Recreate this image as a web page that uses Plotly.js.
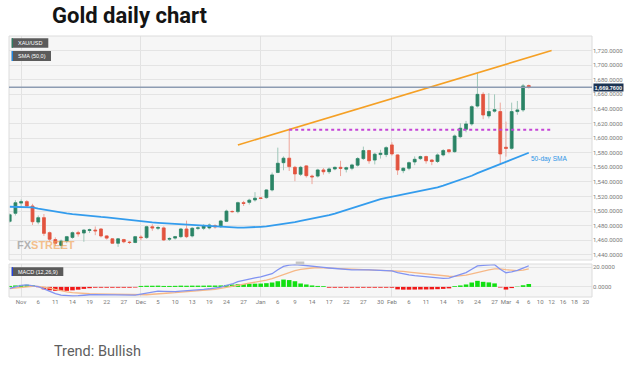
<!DOCTYPE html>
<html><head><meta charset="utf-8">
<script src="https://cdn.plot.ly/plotly-3.0.1.min.js"></script>
<style>html,body{margin:0;padding:0;background:#fff;}#chart{width:628px;height:372px;}</style>
</head><body><div id="chart"></div>
<script>
// ---------- data ----------
const dates = ['2019-10-30','2019-10-31','2019-11-01','2019-11-04','2019-11-05','2019-11-06','2019-11-07','2019-11-08','2019-11-11','2019-11-12','2019-11-13','2019-11-14','2019-11-15','2019-11-18','2019-11-19','2019-11-20','2019-11-21','2019-11-22','2019-11-25','2019-11-26','2019-11-27','2019-11-28','2019-11-29','2019-12-02','2019-12-03','2019-12-04','2019-12-05','2019-12-06','2019-12-09','2019-12-10','2019-12-11','2019-12-12','2019-12-13','2019-12-17','2019-12-18','2019-12-19','2019-12-20','2019-12-23','2019-12-24','2019-12-25','2019-12-26','2019-12-27','2019-12-30','2019-12-31','2020-01-01','2020-01-02','2020-01-03','2020-01-06','2020-01-07','2020-01-08','2020-01-09','2020-01-10','2020-01-13','2020-01-14','2020-01-15','2020-01-16','2020-01-17','2020-01-20','2020-01-21','2020-01-22','2020-01-23','2020-01-24','2020-01-27','2020-01-28','2020-01-29','2020-01-30','2020-01-31','2020-02-03','2020-02-04','2020-02-05','2020-02-06','2020-02-07','2020-02-10','2020-02-11','2020-02-12','2020-02-13','2020-02-14','2020-02-17','2020-02-18','2020-02-19','2020-02-20','2020-02-21','2020-02-24','2020-02-25','2020-02-26','2020-02-27','2020-02-28','2020-03-02','2020-03-03','2020-03-04','2020-03-05','2020-03-06'];
const open  = [1486,1497,1511,1513,1507,1485,1491,1470.5,1461,1453,1459,1464,1470.5,1470,1473.5,1474,1475.5,1466,1462,1456,1461,1457.5,1457,1464.5,1463.7,1478.5,1476.5,1477,1461.5,1463,1465,1475.5,1466,1476.5,1476.5,1477,1480,1478.7,1486,1499.5,1499.3,1511.6,1512,1515.3,1518,1518.5,1529,1553,1566.4,1572.5,1560,1550.5,1562,1548,1548,1556.4,1554,1557.8,1560,1557.5,1558.8,1563,1572,1583,1570,1577.5,1577.5,1590.7,1577,1555.5,1558.8,1567.4,1572,1574.7,1570,1568,1577,1584,1581.5,1602,1612.2,1619.5,1644,1660,1630.5,1637,1636.4,1587.5,1586,1636.4,1638.7,1672];
const high  = [1497,1515,1516,1515,1510,1494,1496,1472,1464,1461,1466,1472,1473,1475,1476,1479,1476.5,1467,1463,1463,1462,1459,1466,1467,1480,1482,1480,1479,1464,1466,1477,1487,1478,1479,1482,1483,1482,1488,1502,1501,1513,1514,1517,1526,1519,1530,1553,1587,1575,1612.7,1562,1562,1563,1550,1558,1559,1560,1561,1569,1561,1565,1574,1588.4,1584,1580,1584,1589,1594.4,1578,1560,1568,1575,1576,1576,1571,1579,1585,1585,1605,1620.5,1623.6,1645,1689,1663,1661.6,1660,1648.7,1622.7,1648.7,1651,1674.3,1673.5];
const low   = [1484,1494,1506,1505,1481,1482,1466,1458,1452,1448,1456,1462,1465,1458,1470,1467,1464,1461,1455,1451,1456,1455,1456,1460,1462,1473,1474,1459,1459,1461,1463,1463,1464,1474,1474,1475,1476,1477,1485,1498,1497,1507,1509,1513,1517,1517,1527,1552,1556,1555,1541,1548,1546,1537,1546,1550,1551,1556,1548,1553,1556,1561,1570,1565,1564,1572,1574,1576,1549.6,1552,1556,1563,1570,1565,1563,1566,1575,1579,1580,1600,1608,1617,1642,1626,1627,1635,1564.7,1574.7,1584,1632,1636,1668];
const close = [1495,1511.5,1513,1507,1485.5,1491,1469.5,1461.5,1456,1459,1465,1470.5,1469,1474,1474.5,1473,1466,1463,1456,1462,1458,1457,1465,1463.7,1478.7,1477,1477.5,1460.5,1462.5,1465,1475.5,1465,1476.5,1477,1480,1481,1478.5,1486.5,1500,1499.3,1511.6,1510.5,1515,1517.7,1517.5,1529,1549.6,1565.6,1572.5,1561,1551,1560,1548.6,1547,1556.4,1554,1557.8,1560,1558.5,1559.5,1563.3,1572,1583,1569,1578,1579.3,1587,1578.4,1556.4,1558.8,1566.4,1571,1574.7,1569,1568,1577,1583,1581.5,1603,1613.6,1619.5,1643.2,1660,1631.8,1636.4,1639,1578.4,1586,1636.4,1638.7,1671.6,1669.76];
const sma50 = [1506,1506,1506,1505.5,1505,1503.5,1502,1500.5,1499,1498,1497,1496,1495,1494,1493,1492.5,1492,1491.5,1490.5,1490,1489,1488,1487,1486,1485,1484.5,1484,1483.5,1483,1482.5,1482,1481.5,1481,1480,1479.5,1479,1478.5,1478.3,1478,1477.8,1477.5,1477.5,1477.5,1478,1478.5,1479,1480,1481,1482,1483.5,1485,1486.5,1488,1489,1490.5,1492.5,1494.5,1496.5,1499,1501.5,1504,1507,1510,1512.5,1514.5,1516.5,1518,1519.5,1521,1522.5,1524,1526,1527.5,1529,1531,1532.5,1535,1537.5,1540,1542.5,1545.5,1548.5,1552,1555,1558,1561.5,1564.5,1567,1570.5,1574,1577,1580];
const macd   = [-1.5,0.3,1.6,2.0,1.3,0.2,-2.0,-4.5,-6.8,-8.3,-9.1,-9.3,-9.0,-8.3,-8.0,-7.8,-7.9,-8.0,-8.2,-8.3,-8.5,-8.6,-8.4,-7.4,-6.3,-5.2,-4.4,-4.6,-4.9,-4.8,-4.2,-3.9,-3.4,-3.0,-2.5,-1.9,-1.3,-0.2,1.6,3.0,5.5,7.0,8.3,9.3,10.3,11.6,13.5,17.5,21.0,22.2,22.7,22.4,21.6,20.8,20.3,19.9,19.3,18.7,18.1,17.6,17.3,17.3,17.6,17.3,17.2,17.0,16.9,16.4,14.6,13.2,12.2,11.5,10.8,10.1,9.4,8.9,8.7,9.0,10.6,12.6,14.6,18.0,21.4,22.0,22.4,22.7,18.0,14.5,15.4,16.8,19.2,21.6];
const signal = [-1.6,-0.9,-0.2,0.4,0.6,0.5,-0.2,-1.2,-2.6,-4.0,-5.0,-5.8,-6.4,-6.8,-7.0,-7.1,-7.2,-7.4,-7.5,-7.6,-7.8,-7.9,-8.1,-8.2,-8.0,-7.5,-6.9,-6.5,-6.2,-5.9,-5.5,-5.0,-4.6,-4.1,-3.6,-3.0,-2.4,-1.6,-0.6,0.4,1.5,2.8,4.0,5.0,6.0,7.0,8.5,10.5,13.0,15.0,16.6,17.8,18.7,19.3,19.6,19.5,19.3,19.0,18.7,18.4,18.1,17.9,17.8,17.6,17.4,17.2,17.0,16.8,16.4,15.8,15.1,14.4,13.7,13.0,12.3,11.7,11.2,10.9,10.8,11.2,12.0,13.3,14.9,16.3,17.5,18.4,18.5,17.6,16.8,16.6,17.2,18.4];
const hist   = [1.0,1.5,2.0,2.2,1.8,-0.3,-2.5,-3.5,-4.0,-4.1,-4.0,-3.5,-2.8,-2.0,-1.3,-0.8,-0.8,-0.8,-0.8,-0.8,-0.8,-0.8,-0.6,1.0,1.2,1.2,1.3,1.0,1.0,1.1,1.3,1.2,1.3,1.3,1.3,1.4,1.4,1.5,2.0,2.4,2.8,3.0,3.2,3.3,3.4,3.8,4.5,5.8,7.5,7.0,5.8,3.5,2.5,1.5,1.0,0.8,-0.8,-0.8,-0.8,-0.8,-0.8,-0.8,-0.8,-0.8,-0.8,-0.8,-0.8,-0.8,-2.5,-2.8,-2.8,-2.7,-2.6,-2.6,-2.5,-2.3,-2.0,-1.5,0.8,1.5,2.5,4.5,6.2,5.2,4.6,3.6,-0.6,-2.7,-1.2,0.3,1.7,3.0];
const tickDates  = ['2019-11-01','2019-11-06','2019-11-11','2019-11-14','2019-11-19','2019-11-22','2019-11-27','2019-12-02','2019-12-05','2019-12-10','2019-12-13','2019-12-19','2019-12-24','2019-12-27','2020-01-01','2020-01-06','2020-01-09','2020-01-14','2020-01-17','2020-01-22','2020-01-27','2020-01-30','2020-02-03','2020-02-06','2020-02-11','2020-02-14','2020-02-19','2020-02-24','2020-02-27','2020-03-02','2020-03-04','2020-03-06','2020-03-10','2020-03-12','2020-03-16','2020-03-18','2020-03-20'];
const tickLabels = ['Nov','6','11','14','19','22','27','Dec','5','10','13','19','24','27','Jan','6','9','14','17','22','27','30','Feb','6','11','14','19','24','27','Mar','4','6','10','12','16','18','20'];
const monthStarts = ['2019-11-01','2019-12-02','2020-01-01','2020-02-03','2020-03-02'];
const missingDays = ['2019-12-16'];
const priceTicks = [1440,1460,1480,1500,1520,1540,1560,1580,1600,1620,1640,1660,1680,1700,1720];
const macdTicks = [0,20];
const trendDates = ['2019-12-26','2020-03-12'];
const trendValues = [1590.7,1720];
const resistDates = ['2020-01-08','2020-03-12'];
const resistValues = [1611.5,1611.5];
const lastPrice = 1669.76;

// ---------- drawing ----------
const T = d => d + ' 12:00';
const X = dates.map(T);
const bodyHi = open.map((o,i)=>Math.max(o,close[i]));
const bodyLo = open.map((o,i)=>Math.min(o,close[i]));
const GREEN='#2b8466', RED='#e2543f';

// pixel -> paper helpers (plot area: x 9..592, y 36..297)
const L=9, R=592, TOP=36, BOT=297;
const px = v => (v-L)/(R-L);
const py = v => (BOT-v)/(BOT-TOP);

const traces = [
  {type:'candlestick', x:X, open:open, high:high, low:low, close:close, xaxis:'x', yaxis:'y',
   increasing:{line:{color:'#9fc7b9',width:1}, fillcolor:'#9fc7b9'},
   decreasing:{line:{color:'#eea69b',width:1}, fillcolor:'#eea69b'}, whiskerwidth:0, showlegend:false, hoverinfo:'skip'},
  {type:'candlestick', x:X, open:open, high:bodyHi, low:bodyLo, close:close, xaxis:'x', yaxis:'y',
   increasing:{line:{color:GREEN,width:0.6}, fillcolor:GREEN},
   decreasing:{line:{color:RED,width:0.6}, fillcolor:RED}, whiskerwidth:0, showlegend:false, hoverinfo:'skip'},
  {type:'scatter', mode:'lines', x:X, y:sma50, xaxis:'x', yaxis:'y', line:{color:'#339ced', width:1.8}, showlegend:false, hoverinfo:'skip'},
  {type:'scatter', mode:'lines', x:trendDates.map(T), y:trendValues, xaxis:'x', yaxis:'y', line:{color:'#f5a025', width:1.6}, showlegend:false, hoverinfo:'skip'},
  {type:'scatter', mode:'lines', x:resistDates.map(T), y:resistValues, xaxis:'x', yaxis:'y', line:{color:'#c546d6', width:2, dash:'dot'}, showlegend:false, hoverinfo:'skip'},
  {type:'bar', x:X, y:hist, xaxis:'x', yaxis:'y2', marker:{color:hist.map(v=>v>=0?'#11e011':'#f01818'), line:{width:0}}, showlegend:false, hoverinfo:'skip'},
  {type:'scatter', mode:'lines', x:X, y:signal, xaxis:'x', yaxis:'y2', line:{color:'#f6b887', width:1.3}, showlegend:false, hoverinfo:'skip'},
  {type:'scatter', mode:'lines', x:X, y:macd, xaxis:'x', yaxis:'y2', line:{color:'#8193f2', width:1.3}, showlegend:false, hoverinfo:'skip'}
];

const tickFont = {family:'Roboto, Arial, sans-serif', size:6, color:'#7a7a7a'};
const layout = {
  width:628, height:372,
  margin:{l:L, r:628-R, t:TOP, b:372-BOT, pad:0},
  paper_bgcolor:'#ffffff', plot_bgcolor:'#f6f6f6',
  showlegend:false, hovermode:false, bargap:0.2,
  title:{text:'<b>Gold daily chart</b>', font:{family:'Roboto, sans-serif', size:22, color:'#141414'},
         xref:'container', yref:'container', x:52/628, xanchor:'left', y:1-15/372, yanchor:'middle'},
  xaxis:{type:'date', anchor:'y2', domain:[0,1],
         range:['2019-10-30 09:00','2020-03-23 14:00'],
         rangebreaks:[{bounds:['sat','mon']},{values:missingDays, dvalue:86400000}],
         rangeslider:{visible:false},
         tickmode:'array', tickvals:tickDates.map(T), ticktext:tickLabels, tickfont:tickFont,
         ticks:'', showgrid:false, zeroline:false, showline:false,
         minor:{tickmode:'array', tickvals:monthStarts.map(T), showgrid:true, gridcolor:'#e2e2e2', gridwidth:1, ticks:''}},
  yaxis:{anchor:'x', domain:[py(260),1], side:'right', range:[1433,1740],
         tickmode:'array', tickvals:priceTicks, tickformat:',.4f', tickfont:tickFont,
         ticks:'', showgrid:true, gridcolor:'#e4e4e4', zeroline:false, showline:false},
  yaxis2:{anchor:'x', domain:[0,py(264)], side:'right', range:[-10.3,23.4],
         tickmode:'array', tickvals:macdTicks, tickformat:'.4f', tickfont:tickFont,
         ticks:'', showgrid:true, gridcolor:'#e4e4e4', zeroline:false, showline:false},
  shapes:[
    {type:'rect', xref:'paper', yref:'paper', x0:0, x1:1, y0:py(260), y1:1, line:{color:'#dcdcdc', width:1}, layer:'above'},
    {type:'rect', xref:'paper', yref:'paper', x0:0, x1:1, y0:0, y1:py(264), line:{color:'#dcdcdc', width:1}, layer:'above'},
    {type:'line', xref:'paper', yref:'y', x0:0, x1:1, y0:lastPrice, y1:lastPrice, line:{color:'#8d9cb2', width:1.5}},
    {type:'rect', xref:'paper', yref:'paper', x0:px(11.7), x1:px(48.3), y0:py(47.7), y1:py(38.3), fillcolor:'#5b5b5b', line:{width:0}},
    {type:'rect', xref:'paper', yref:'paper', x0:px(11.7), x1:px(13), y0:py(47.7), y1:py(38.3), fillcolor:'#2d7d62', line:{width:0}},
    {type:'rect', xref:'paper', yref:'paper', x0:px(11.7), x1:px(51), y0:py(61), y1:py(51), fillcolor:'#5b5b5b', line:{width:0}},
    {type:'rect', xref:'paper', yref:'paper', x0:px(11.7), x1:px(13), y0:py(61), y1:py(51), fillcolor:'#1e88e5', line:{width:0}},
    {type:'rect', xref:'paper', yref:'paper', x0:px(11.7), x1:px(63.3), y0:py(276), y1:py(267.3), fillcolor:'#5b5b5b', line:{width:0}},
    {type:'rect', xref:'paper', yref:'paper', x0:px(11.7), x1:px(13), y0:py(276), y1:py(267.3), fillcolor:'#2343e6', line:{width:0}},
    {type:'rect', xref:'paper', yref:'paper', x0:px(295.7), x1:px(304.3), y0:py(264.5), y1:py(261.5), fillcolor:'#c6c6c6', line:{width:0}}
  ],
  annotations:[
    {xref:'paper', yref:'paper', x:px(16), y:py(43), xanchor:'left', yanchor:'middle', showarrow:false,
     text:'XAU/USD', font:{family:'Arial, sans-serif', size:5.5, color:'#ffffff'}},
    {xref:'paper', yref:'paper', x:px(16), y:py(56), xanchor:'left', yanchor:'middle', showarrow:false,
     text:'SMA (50,0)', font:{family:'Arial, sans-serif', size:5.5, color:'#ffffff'}},
    {xref:'paper', yref:'paper', x:px(16), y:py(271.7), xanchor:'left', yanchor:'middle', showarrow:false,
     text:'MACD (12,26,9)', font:{family:'Arial, sans-serif', size:5.5, color:'#ffffff'}},
    {xref:'paper', yref:'y', x:px(593), y:lastPrice, xanchor:'left', yanchor:'middle', showarrow:false,
     text:'<b>1,669.7600</b>', bgcolor:'#1c3453', borderpad:0.5, font:{family:'Arial, sans-serif', size:5.5, color:'#ffffff'}},
    {xref:'x', yref:'y', x:T(dates[dates.length-1]), y:sma50[sma50.length-1], xanchor:'left', yanchor:'top', showarrow:false,
     text:'50-day SMA', font:{family:'Arial, sans-serif', size:6.5, color:'#2f95e6'}},
    {xref:'paper', yref:'paper', x:px(15), y:py(244.5), xanchor:'left', yanchor:'middle', showarrow:false, opacity:0.65,
     text:'<b><span style="color:#8f8f8f">FX</span><span style="color:#f2a254">STREET</span></b>',
     font:{family:'Liberation Sans Narrow, Arial Narrow, sans-serif', size:11}},
    {xref:'paper', yref:'paper', x:px(52), y:py(351), xanchor:'left', yanchor:'middle', showarrow:false,
     text:'Trend: Bullish', font:{family:'Roboto, sans-serif', size:14.5, color:'#5e5e5e'}}
  ]
};
Plotly.newPlot('chart', traces, layout, {displayModeBar:false, staticPlot:true});
</script></body></html>
